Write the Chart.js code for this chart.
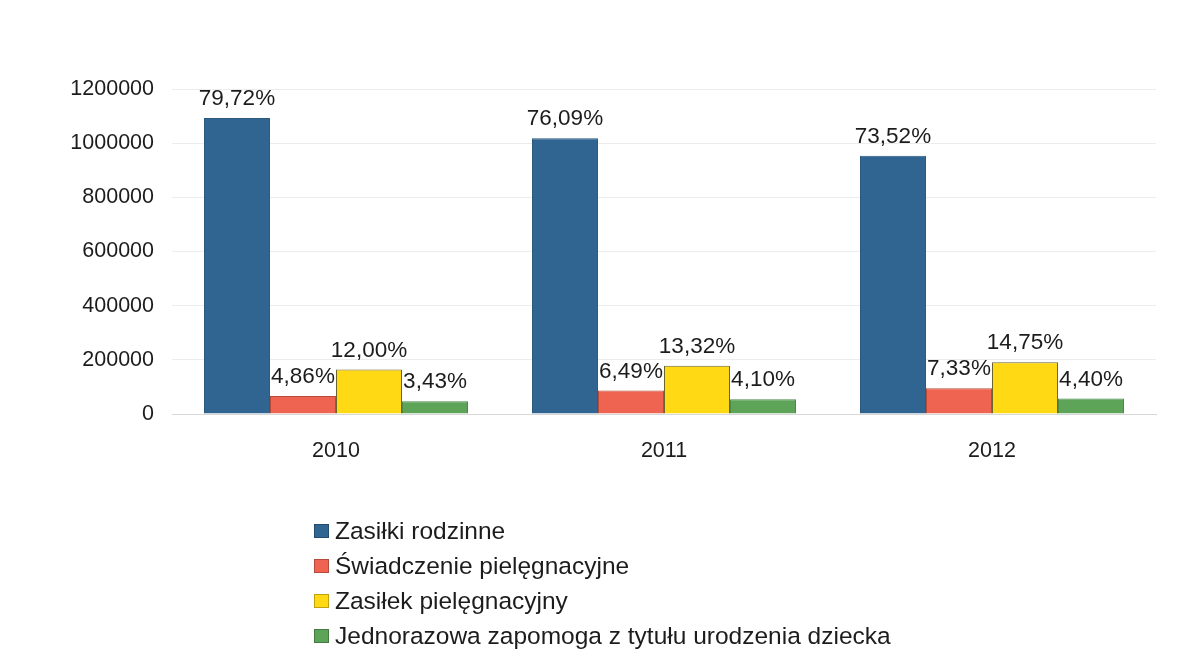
<!DOCTYPE html>
<html>
<head>
<meta charset="utf-8">
<script src="https://cdn.jsdelivr.net/npm/chart.js@4/dist/chart.umd.min.js"></script>
<style>
  html, body { margin: 0; padding: 0; background: #ffffff; }
  #wrap { position: relative; width: 1199px; height: 667px; }
  #legend { position: absolute; left: 314px; top: 513px; font-family: "Liberation Sans", Arial, sans-serif; font-size: 24.5px; color: #1c1c1c; }
  #legend .item { height: 35px; line-height: 35px; display: flex; align-items: center; white-space: nowrap; }
  #legend .box { width: 15px; height: 14px; margin-right: 6px; box-sizing: border-box; border: 1px solid rgba(0,0,0,0.25); }
</style>
</head>
<body>
<div id="wrap">
  <canvas id="c" width="1199" height="667"></canvas>
  <div id="legend"></div>
</div>
<script>
const categories = ["2010", "2011", "2012"];
const seriesNames = ["Zasiłki rodzinne", "Świadczenie pielęgnacyjne", "Zasiłek pielęgnacyjny", "Jednorazowa zapomoga z tytułu urodzenia dziecka"];
const zasilkiRodzinne = [1093000, 1018000, 954000];
const swiadczeniePiel = [66600, 86800, 95100];
const zasilekPiel = [164500, 178000, 191400];
const jednorazowa = [47000, 54800, 57100];
const pctZasilkiRodzinne = ["79,72%", "76,09%", "73,52%"];
const pctSwiadczeniePiel = ["4,86%", "6,49%", "7,33%"];
const pctZasilekPiel = ["12,00%", "13,32%", "14,75%"];
const pctJednorazowa = ["3,43%", "4,10%", "4,40%"];
const yTicks = [0, 200000, 400000, 600000, 800000, 1000000, 1200000];

const colors = ["#2F6590", "#EE6450", "#FFD913", "#5DA459"];
const borders = ["#2a5a80", "#b84a3a", "#6b6330", "#4a8848"];
const values = [zasilkiRodzinne, swiadczeniePiel, zasilekPiel, jednorazowa];
const pcts = [pctZasilkiRodzinne, pctSwiadczeniePiel, pctZasilekPiel, pctJednorazowa];

const FONT = '"Liberation Sans", Arial, sans-serif';

const pctLabels = {
  id: 'pctLabels',
  afterDatasetsDraw(chart) {
    const ctx = chart.ctx;
    ctx.save();
    ctx.font = '22.5px ' + FONT;
    ctx.fillStyle = '#1c1c1c';
    ctx.textAlign = 'center';
    ctx.textBaseline = 'middle';
    chart.data.datasets.forEach((ds, i) => {
      const meta = chart.getDatasetMeta(i);
      meta.data.forEach((bar, j) => {
        ctx.fillText(pcts[i][j], bar.x, bar.y - 19);
      });
    });
    ctx.restore();
  }
};

new Chart(document.getElementById('c'), {
  type: 'bar',
  data: {
    labels: categories,
    datasets: seriesNames.map((n, i) => ({
      label: n,
      data: values[i],
      backgroundColor: colors[i],
      borderColor: borders[i],
      borderWidth: 1,
      categoryPercentage: 0.805,
      barPercentage: 1.0
    }))
  },
  options: {
    responsive: false,
    animation: false,
    devicePixelRatio: 1,
    layout: { padding: { left: 70, right: 43, top: 89, bottom: 203 } },
    plugins: { legend: { display: false }, tooltip: { enabled: false } },
    scales: {
      x: {
        grid: { display: false, drawTicks: false },
        border: { display: true, color: '#d8d8d8' },
        ticks: { font: { family: FONT, size: 21.5 }, color: '#1c1c1c', padding: 24 },
        afterFit(s) { s.height = 50; }
      },
      y: {
        min: 0, max: 1200000,
        afterBuildTicks(s) { s.ticks = yTicks.map(v => ({ value: v })); },
        grid: { color: '#ececec', drawTicks: false },
        border: { display: false },
        ticks: { font: { family: FONT, size: 21.5 }, color: '#1c1c1c', padding: 18, callback: v => String(v) },
        afterFit(s) { s.width = 102; }
      }
    }
  },
  plugins: [pctLabels]
});

const leg = document.getElementById('legend');
seriesNames.forEach((n, i) => {
  const it = document.createElement('div');
  it.className = 'item';
  const b = document.createElement('span');
  b.className = 'box';
  b.style.background = colors[i];
  const t = document.createElement('span');
  t.textContent = n;
  it.appendChild(b); it.appendChild(t);
  leg.appendChild(it);
});
</script>
</body>
</html>
